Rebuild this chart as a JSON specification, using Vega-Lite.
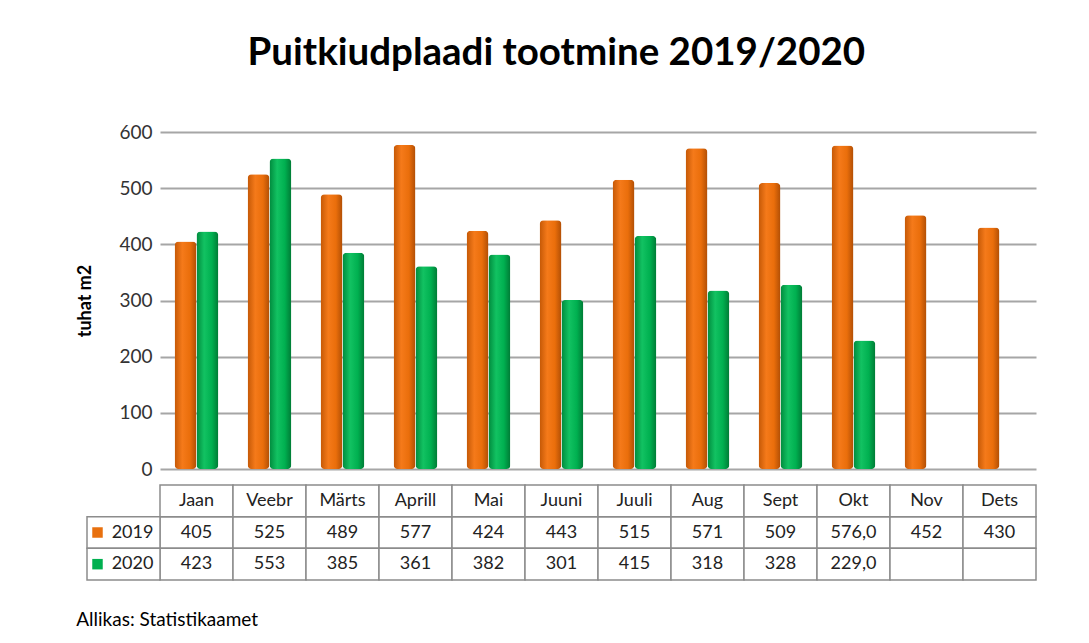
{
  "$schema": "https://vega.github.io/schema/vega-lite/v6.json",
  "padding": {"left": 76, "top": 33, "right": 5, "bottom": 5},
  "background": "white",
  "title": {"text": "Puitkiudplaadi tootmine 2019/2020", "font": "Lato", "fontSize": 38.5, "fontWeight": "bold", "color": "#000000", "anchor": "middle", "offset": 50},
  "config": {"view": {"stroke": null}, "font": "Lato"},
  "datasets": {
    "prod": [
      {"month": "Jaan", "year": "2019", "value": 405, "label": "405"},
      {"month": "Veebr", "year": "2019", "value": 525, "label": "525"},
      {"month": "Märts", "year": "2019", "value": 489, "label": "489"},
      {"month": "Aprill", "year": "2019", "value": 577, "label": "577"},
      {"month": "Mai", "year": "2019", "value": 424, "label": "424"},
      {"month": "Juuni", "year": "2019", "value": 443, "label": "443"},
      {"month": "Juuli", "year": "2019", "value": 515, "label": "515"},
      {"month": "Aug", "year": "2019", "value": 571, "label": "571"},
      {"month": "Sept", "year": "2019", "value": 509, "label": "509"},
      {"month": "Okt", "year": "2019", "value": 576, "label": "576,0"},
      {"month": "Nov", "year": "2019", "value": 452, "label": "452"},
      {"month": "Dets", "year": "2019", "value": 430, "label": "430"},
      {"month": "Jaan", "year": "2020", "value": 423, "label": "423"},
      {"month": "Veebr", "year": "2020", "value": 553, "label": "553"},
      {"month": "Märts", "year": "2020", "value": 385, "label": "385"},
      {"month": "Aprill", "year": "2020", "value": 361, "label": "361"},
      {"month": "Mai", "year": "2020", "value": 382, "label": "382"},
      {"month": "Juuni", "year": "2020", "value": 301, "label": "301"},
      {"month": "Juuli", "year": "2020", "value": 415, "label": "415"},
      {"month": "Aug", "year": "2020", "value": 318, "label": "318"},
      {"month": "Sept", "year": "2020", "value": 328, "label": "328"},
      {"month": "Okt", "year": "2020", "value": 229, "label": "229,0"},
      {"month": "Nov", "year": "2020", "value": null, "label": ""},
      {"month": "Dets", "year": "2020", "value": null, "label": ""}
    ]
  },
  "spacing": 5,
  "vconcat": [
    {
      "width": 876,
      "height": 337,
      "data": {"name": "prod"},
      "encoding": {
        "x": {"field": "month", "type": "nominal", "sort": ["Jaan","Veebr","Märts","Aprill","Mai","Juuni","Juuli","Aug","Sept","Okt","Nov","Dets"], "scale": {"domain": ["Jaan","Veebr","Märts","Aprill","Mai","Juuni","Juuli","Aug","Sept","Okt","Nov","Dets"], "paddingInner": 0.4, "paddingOuter": 0.2}, "axis": null},
        "xOffset": {"field": "year", "type": "nominal", "scale": {"domain": ["2019", "2020"]}},
        "y": {"field": "value", "type": "quantitative", "scale": {"domain": [0, 600], "nice": false}, "axis": {"values": [0, 100, 200, 300, 400, 500, 600], "title": "tuhat m2", "titleFont": "Lato", "titleFontSize": 18, "titleFontWeight": "bold", "titleColor": "#000000", "titlePadding": 30, "minExtent": 36, "maxExtent": 36, "labelFont": "Lato", "labelFontSize": 19, "labelColor": "#333333", "labelPadding": 8, "ticks": false, "domain": false, "gridColor": "#a6a6a6", "gridWidth": 2}}
      },
      "layer": [
        {
          "transform": [{"filter": "datum.year == '2019' && datum.value != null"}],
          "mark": {"type": "bar", "cornerRadius": 4, "xOffset": 6, "color": {"gradient": "linear", "x1": 0, "x2": 1, "y1": 0, "y2": 0, "stops": [{"offset": 0, "color": "#c45806"}, {"offset": 0.35, "color": "#f57a1a"}, {"offset": 0.7, "color": "#ea6e0b"}, {"offset": 1, "color": "#b04e05"}]}}
        },
        {
          "transform": [{"filter": "datum.year == '2020' && datum.value != null"}],
          "mark": {"type": "bar", "cornerRadius": 4, "xOffset": 6, "color": {"gradient": "linear", "x1": 0, "x2": 1, "y1": 0, "y2": 0, "stops": [{"offset": 0, "color": "#008a3d"}, {"offset": 0.35, "color": "#12c262"}, {"offset": 0.7, "color": "#00b050"}, {"offset": 1, "color": "#007a35"}]}}
        }
      ]
    },
    {
      "width": 876,
      "height": 95,
      "title": {"text": "Allikas: Statistikaamet", "orient": "bottom", "anchor": "start", "font": "Lato", "fontSize": 19, "fontWeight": "normal", "color": "#000000", "offset": 30, "dx": -10},
      "data": {"name": "prod"},
      "encoding": {
        "x": {"field": "month", "type": "nominal", "sort": ["Jaan","Veebr","Märts","Aprill","Mai","Juuni","Juuli","Aug","Sept","Okt","Nov","Dets"], "scale": {"domain": ["Jaan","Veebr","Märts","Aprill","Mai","Juuni","Juuli","Aug","Sept","Okt","Nov","Dets"], "paddingInner": 0, "paddingOuter": 0}, "axis": null},
        "y": {"field": "year", "type": "nominal", "scale": {"domain": ["h", "2019", "2020"], "paddingInner": 0, "paddingOuter": 0}, "axis": null}
      },
      "layer": [
        {
          "mark": {"type": "rect", "fill": "white", "stroke": "#8c8c8c", "strokeWidth": 1.5}
        },
        {
          "transform": [{"filter": "datum.year == '2019'"}],
          "mark": {"type": "rect", "fill": "white", "stroke": "#8c8c8c", "strokeWidth": 1.5},
          "encoding": {"y": {"datum": "h"}}
        },
        {
          "transform": [{"filter": "datum.month == 'Jaan'"}],
          "mark": {"type": "rect", "fill": "white", "stroke": "#8c8c8c", "strokeWidth": 1.5, "xOffset": -73, "x2Offset": -73}
        },
        {
          "mark": {"type": "text", "font": "Lato", "fontSize": 18, "color": "#222222"},
          "encoding": {"text": {"field": "label"}}
        },
        {
          "transform": [{"filter": "datum.year == '2019'"}],
          "mark": {"type": "text", "font": "Lato", "fontSize": 18, "color": "#222222"},
          "encoding": {"y": {"datum": "h"}, "text": {"field": "month"}}
        },
        {
          "transform": [{"filter": "datum.month == 'Jaan'"}],
          "mark": {"type": "text", "font": "Lato", "fontSize": 18, "color": "#222222", "dx": -64},
          "encoding": {"text": {"field": "year"}}
        },
        {
          "transform": [{"filter": "datum.month == 'Jaan'"}],
          "mark": {"type": "square", "filled": true, "size": 110, "opacity": 1, "xOffset": -99},
          "encoding": {"color": {"field": "year", "type": "nominal", "scale": {"domain": ["2019", "2020"], "range": ["#e8700e", "#00b050"]}, "legend": null}}
        }
      ]
    }
  ]
}
